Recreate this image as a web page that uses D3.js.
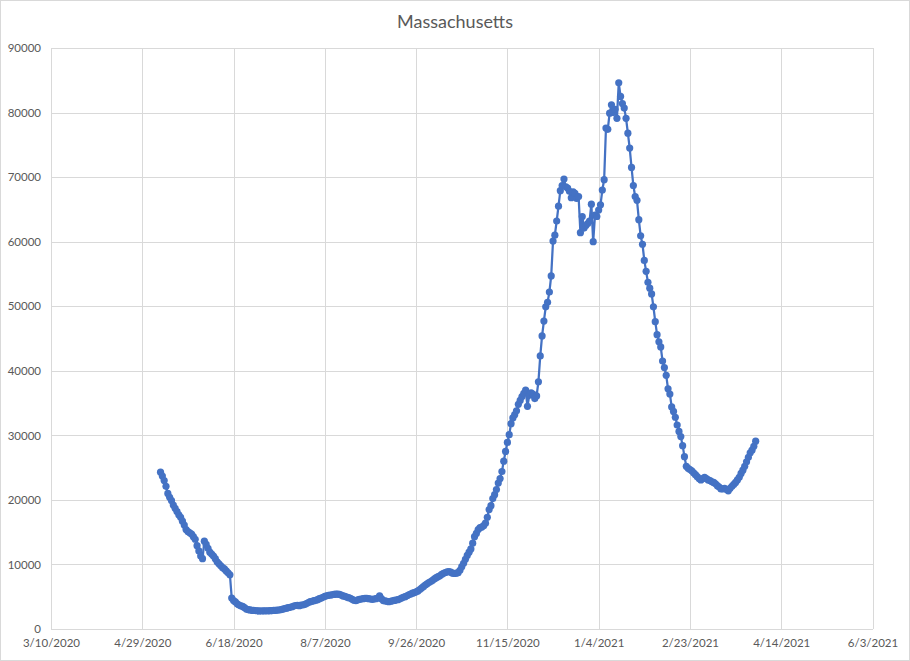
<!DOCTYPE html>
<html>
<head>
<meta charset="utf-8">
<script src="https://cdn.jsdelivr.net/npm/d3@7"></script>
<style>
  html, body { margin: 0; padding: 0; background: #fff; }
  svg { display: block; }
</style>
</head>
<body>
<svg id="chart" width="910" height="661"></svg>
<script>
// ---- Data ----
const chartTitle = "Massachusetts";
const seriesStart = "5/9/2020"; // first daily observation
const seriesValues = [
  24300, 23700, 23000, 22100, 21000, 20400, 19900, 19200, 18700, 18200,
  17700, 17300, 16700, 16100, 15400, 15100, 14900, 14700, 14300, 13900,
  12900, 12100, 11300, 10900, 13600, 13100, 12500, 11900, 11600, 11300,
  10900, 10400, 10100, 9800, 9500, 9300, 9000, 8700, 8400, 4800,
  4400, 4200, 3900, 3700, 3600, 3500, 3300, 3100, 3000, 2950,
  2900, 2870, 2850, 2820, 2800, 2790, 2810, 2800, 2830, 2820,
  2840, 2860, 2880, 2900, 2920, 2940, 3000, 3080, 3150, 3220,
  3300, 3360, 3450, 3550, 3640, 3680, 3600, 3700, 3720, 3800,
  3950, 4100, 4230, 4300, 4380, 4450, 4550, 4700, 4800, 4900,
  5050, 5150, 5200, 5270, 5300, 5350, 5400, 5420, 5350, 5250,
  5120, 5050, 4950, 4850, 4750, 4600, 4450, 4390, 4500, 4600,
  4650, 4700, 4750, 4750, 4700, 4650, 4600, 4650, 4700, 4800,
  5150, 4700, 4400, 4350, 4300, 4230, 4300, 4350, 4420, 4480,
  4550, 4650, 4800, 4900, 5000, 5150, 5300, 5420, 5550, 5650,
  5760, 5900, 6100, 6350, 6550, 6800, 7000, 7200, 7350, 7550,
  7750, 7950, 8100, 8250, 8450, 8630, 8750, 8850, 8880, 8800,
  8650, 8600, 8650, 8720, 9100, 9650, 10180, 10800, 11400, 11900,
  12400, 13300, 14300, 14800, 15400, 15700, 15800, 16000, 16400, 17300,
  18500, 19100, 20200, 20800, 21600, 22600, 23300, 24400, 26000, 27500,
  28900, 30100, 31800, 32700, 33200, 33800, 34800, 35400, 36000, 36500,
  37000, 34500, 36200, 36600, 36400, 35700, 36100, 38300, 42300, 45400,
  47700, 49900, 50600, 52200, 54700, 60100, 61000, 63200, 65500, 67900,
  68700, 69700, 68500, 68300, 67800, 66800, 67700, 67500, 66700, 67000,
  61400, 63900, 62100, 62500, 62800, 63200, 65800, 60000, 64100, 63900,
  64900, 65700, 68000, 69600, 77600, 77400, 79900, 81200, 80000, 80500,
  79100, 84600, 82500, 81400, 80700, 79100, 76800, 74500, 71500, 68700,
  67000, 66400, 63400, 60900, 59600, 57100, 55400, 53700, 52800, 51900,
  49900, 47600, 45600, 44500, 43700, 41500, 40500, 39300, 37200, 36400,
  34400, 33700, 32800, 31600, 30600, 29800, 28400, 26700, 25200, 24900,
  24700, 24500, 24200, 23900, 23600, 23300, 23100, 23300, 23500, 23300,
  23100, 23000, 22800, 22700, 22500, 22200, 22000, 21700, 21700, 21800,
  21600, 21400, 21800, 22100, 22400, 22700, 23100, 23500, 24100, 24600,
  25200, 25900, 26600, 27300, 27700, 28300, 29100
];
const xTickLabels = ["3/10/2020", "4/29/2020", "6/18/2020", "8/7/2020", "9/26/2020",
  "11/15/2020", "1/4/2021", "2/23/2021", "4/14/2021", "6/3/2021"];
const yTickValues = [0, 10000, 20000, 30000, 40000, 50000, 60000, 70000, 80000, 90000];

// ---- Helpers ----
function parseMDY(s) {
  const [m, d, y] = s.split("/").map(Number);
  return new Date(Date.UTC(y, m - 1, d));
}
function fmtMDY(dt) {
  return (dt.getUTCMonth() + 1) + "/" + dt.getUTCDate() + "/" + dt.getUTCFullYear();
}

const start = parseMDY(seriesStart);
const data = seriesValues.map((v, i) => ({ date: d3.utcDay.offset(start, i), value: v }));
const xTicks = xTickLabels.map(parseMDY);

// ---- Layout ----
const W = 910, H = 661;
const plot = { left: 51, right: 872.5, top: 48, bottom: 629 };
const blue = "#4472C4";
const grid = "#D9D9D9";
const textCol = "#595959";
const font = "Lato, 'Open Sans', sans-serif";

const svg = d3.select("#chart");

svg.append("rect")
  .attr("x", 0.5).attr("y", 0.5).attr("width", W - 1).attr("height", H - 1)
  .attr("fill", "#fff").attr("stroke", grid).attr("stroke-width", 1);

const x = d3.scaleUtc().domain([xTicks[0], xTicks[xTicks.length - 1]]).range([plot.left, plot.right]);
const y = d3.scaleLinear().domain([0, 90000]).range([plot.bottom, plot.top]);

// Gridlines via axes
const yGrid = d3.axisLeft(y).tickValues(yTickValues).tickSize(-(plot.right - plot.left)).tickFormat("");
svg.append("g").attr("transform", `translate(${plot.left},0)`).call(yGrid)
  .call(g => g.select(".domain").remove())
  .call(g => g.selectAll("line").attr("stroke", grid).attr("stroke-width", 1)
    .attr("shape-rendering", "crispEdges"));

const xGrid = d3.axisBottom(x).tickValues(xTicks).tickSize(-(plot.bottom - plot.top)).tickFormat("");
svg.append("g").attr("transform", `translate(0,${plot.bottom})`).call(xGrid)
  .call(g => g.select(".domain").remove())
  .call(g => g.selectAll("line").attr("stroke", grid).attr("stroke-width", 1)
    .attr("shape-rendering", "crispEdges"));

// Axis labels
const yAxis = d3.axisLeft(y).tickValues(yTickValues).tickSize(0).tickPadding(10).tickFormat(d3.format("d"));
svg.append("g").attr("transform", `translate(${plot.left},0)`).call(yAxis)
  .call(g => g.select(".domain").remove())
  .call(g => g.selectAll("text").attr("fill", textCol).attr("font-family", font).attr("font-size", 11.5));

const xAxis = d3.axisBottom(x).tickValues(xTicks).tickSize(0).tickPadding(10).tickFormat(fmtMDY);
svg.append("g").attr("transform", `translate(0,${plot.bottom})`).call(xAxis)
  .call(g => g.select(".domain").remove())
  .call(g => g.selectAll("text").attr("fill", textCol).attr("font-family", font).attr("font-size", 11.5));

// Bottom axis line
svg.append("line")
  .attr("x1", plot.left).attr("x2", plot.right).attr("y1", y(0)).attr("y2", y(0))
  .attr("stroke", grid).attr("stroke-width", 1).attr("shape-rendering", "crispEdges");

// Title
svg.append("text")
  .attr("x", 455).attr("y", 28)
  .attr("text-anchor", "middle")
  .attr("fill", textCol).attr("font-family", font).attr("font-size", 18)
  .text(chartTitle);

// Series
const line = d3.line().x(d => x(d.date)).y(d => y(d.value));
svg.append("path").datum(data)
  .attr("d", line).attr("fill", "none").attr("stroke", blue)
  .attr("stroke-width", 2.25).attr("stroke-linejoin", "round");

svg.append("g").selectAll("circle").data(data).join("circle")
  .attr("cx", d => x(d.date)).attr("cy", d => y(d.value))
  .attr("r", 3.6).attr("fill", blue);
</script>
</body>
</html>
